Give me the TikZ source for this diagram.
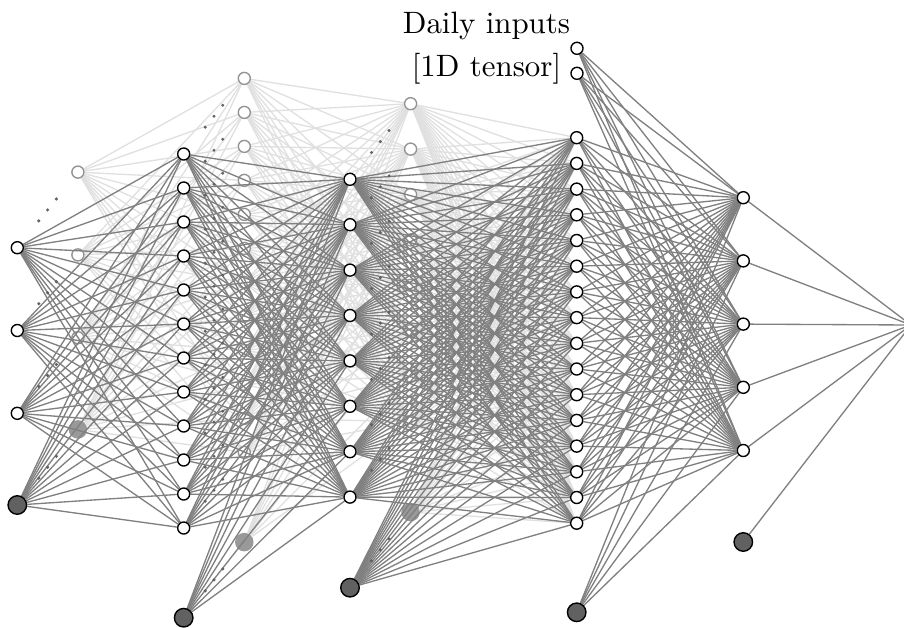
\documentclass[tikz,border=0pt]{standalone}
\usetikzlibrary{calc}
\pgfdeclarelayer{blines}
\pgfdeclarelayer{bnodes}
\pgfdeclarelayer{flines}
\pgfsetlayers{blines,bnodes,flines,main}
\tikzset{
 fnode/.style={circle,draw=black,fill=white,line width=0.45pt,minimum size=3.9pt,inner sep=0pt},
 fbias/.style={circle,draw=black,fill=black!62,line width=0.45pt,minimum size=6pt,inner sep=0pt},
 bnode/.style={circle,draw=black!42,fill=white,line width=0.45pt,minimum size=3.9pt,inner sep=0pt},
 bbias/.style={circle,fill=black!40,minimum size=6pt,inner sep=0pt},
 fline/.style={draw=black!50,line width=0.43pt},
 bline/.style={draw=black!12,line width=0.43pt},
 depthdot/.style={fill=black!62},
 captiontext/.style={font=\fontsize{10}{12}\selectfont,inner sep=0pt,anchor=base},
}
\begin{document}
\begin{tikzpicture}[x=0.3236pt,y=-0.3236pt]
\useasboundingbox (0,0) rectangle (904,628);
\clip (0,0) rectangle (904,628);
\def\dx{60.6}
\def\dy{-75.6}
% ---------- front nodes ----------
\foreach \i in {1,2,3} {\node[fnode] (F0-\i) at (17.3,{247.7+82.8*(\i-1)}) {};}
\node[fbias] (F0-b) at (17.3,505) {};
\foreach \i in {1,...,12} {\node[fnode] (F1-\i) at (183.7,{154+34*(\i-1)}) {};}
\node[fbias] (F1-b) at (183.7,617.7) {};
\foreach \i in {1,...,8} {\node[fnode] (F2-\i) at (350,{179.3+45.4*(\i-1)}) {};}
\node[fbias] (F2-b) at (350,587.7) {};
\foreach \i in {1,...,16} {\node[fnode] (L3-\i) at (576.7,{137.7+25.7*(\i-1)}) {};}
\node[fnode] (D-1) at (577,48.3) {};
\node[fnode] (D-2) at (577,73.3) {};
\node[fbias] (L3-b) at (576.7,612.3) {};
\foreach \i in {1,...,5} {\node[fnode] (L4-\i) at (743.3,{197.7+63.2*(\i-1)}) {};}
\node[fbias] (L4-b) at (743.3,542) {};
\node[fnode] (O) at (911,325) {};
% ---------- back nodes ----------
\begin{pgfonlayer}{bnodes}
\foreach \i in {1,2,3} {\node[bnode] (B0-\i) at ({17.3+\dx},{247.7+82.8*(\i-1)+\dy}) {};}
\node[bbias] (B0-b) at ({17.3+\dx},{505+\dy}) {};
\foreach \i in {1,...,12} {\node[bnode] (B1-\i) at ({183.7+\dx},{154+34*(\i-1)+\dy}) {};}
\node[bbias] (B1-b) at ({183.7+\dx},{617.7+\dy}) {};
\foreach \i in {1,...,8} {\node[bnode] (B2-\i) at ({350+\dx},{179.3+45.4*(\i-1)+\dy}) {};}
\node[bbias] (B2-b) at ({350+\dx},{587.7+\dy}) {};
\end{pgfonlayer}
% ---------- back connectors ----------
\begin{pgfonlayer}{blines}
\foreach \i in {1,2,3,b} {\foreach \j in {1,...,12} {\draw[bline] (B0-\i) -- (B1-\j);}}
\foreach \i in {1,...,12,b} {\foreach \j in {1,...,8} {\draw[bline] (B1-\i) -- (B2-\j);}}
\foreach \i in {1,...,8,b} {\foreach \j in {1,...,16} {\draw[bline] (B2-\i) -- (L3-\j);}}
\end{pgfonlayer}
% ---------- front connectors ----------
\begin{pgfonlayer}{flines}
\foreach \i in {1,2,3,b} {\foreach \j in {1,...,12} {\draw[fline] (F0-\i) -- (F1-\j);}}
\foreach \i in {1,...,12,b} {\foreach \j in {1,...,8} {\draw[fline] (F1-\i) -- (F2-\j);}}
\foreach \i in {1,...,8,b} {\foreach \j in {1,...,16} {\draw[fline] (F2-\i) -- (L3-\j);}}
\foreach \i in {1,...,16,b} {\foreach \j in {1,...,5} {\draw[fline] (L3-\i) -- (L4-\j);}}
\foreach \i in {1,2} {\foreach \j in {1,...,5} {\draw[fline] (D-\i) -- (L4-\j);}}
\foreach \i in {1,...,5,b} {\draw[fline] (L4-\i) -- (O);}
\end{pgfonlayer}
% ---------- depth dots ----------
\foreach \i in {1,2,3,b} {\foreach \t in {0.355,0.5,0.645} {\fill[depthdot] ($(F0-\i)!\t!(B0-\i)$) circle[radius=0.55pt];}}
\foreach \i in {1,...,12,b} {\foreach \t in {0.355,0.5,0.645} {\fill[depthdot] ($(F1-\i)!\t!(B1-\i)$) circle[radius=0.55pt];}}
\foreach \i in {1,...,8,b} {\foreach \t in {0.355,0.5,0.645} {\fill[depthdot] ($(F2-\i)!\t!(B2-\i)$) circle[radius=0.55pt];}}
% ---------- caption ----------
\node[captiontext] (t1) at (486.5,33.3) {Daily inputs};
\node[captiontext] (t2) at (486.5,76) {[1D tensor]};
\end{tikzpicture}
\end{document}
